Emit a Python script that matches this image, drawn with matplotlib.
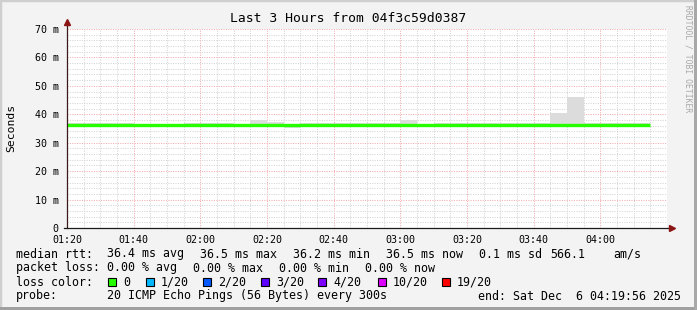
import matplotlib
matplotlib.use("Agg")
import matplotlib.pyplot as plt
from matplotlib.patches import Rectangle
import numpy as np

# ---- data ----
title = "Last 3 Hours from 04f3c59d0387"
bin_minutes = 5
# median rtt per 5 minute bin, starting 01:20 (ms)
median = [36.4, 36.4, 36.4, 36.3, 36.1, 36.1, 36.1, 36.3, 36.3, 36.3,
          36.1, 36.4, 36.1, 36.1, 36.4, 36.4, 36.3, 36.3, 36.3, 36.3,
          36.4, 36.2, 36.3, 36.3, 36.3, 36.3, 36.3, 36.3, 36.3, 36.3,
          36.3, 36.3, 36.3, 36.3, 36.4]
# smoke (min / max of the pings) per bin (ms)
smoke_lo = [36.0, 36.0, 36.0, 35.9, 35.8, 35.8, 35.8, 35.9, 35.9, 35.9,
            35.8, 36.0, 35.8, 35.3, 36.0, 36.0, 35.9, 35.9, 35.9, 35.9,
            36.0, 35.8, 35.9, 35.7, 35.7, 35.7, 35.7, 35.6, 35.9, 35.9,
            35.9, 35.9, 35.9, 35.9, 36.1]
smoke_hi = [36.9, 36.9, 36.9, 36.8, 36.6, 36.6, 36.6, 36.8, 36.8, 36.8,
            36.6, 37.9, 37.2, 36.6, 36.9, 36.9, 36.8, 36.8, 36.8, 36.8,
            37.9, 36.7, 36.8, 36.8, 36.8, 36.8, 36.8, 36.8, 36.8, 40.5,
            46.0, 36.8, 36.8, 36.8, 37.1]
x_ticks = [0, 20, 40, 60, 80, 100, 120, 140, 160]
x_labels = ["01:20", "01:40", "02:00", "02:20", "02:40", "03:00", "03:20", "03:40", "04:00"]
y_ticks = [0, 10, 20, 30, 40, 50, 60, 70]
y_labels = ["0", "10 m", "20 m", "30 m", "40 m", "50 m", "60 m", "70 m"]

loss_labels = ["0", "1/20", "2/20", "3/20", "4/20", "10/20", "19/20"]
loss_colors = ["#26ff00", "#00b8ff", "#0059ff", "#5e00ff", "#7e00ff", "#dd00ff", "#ff0000"]

W, H = 697, 310
mono = "DejaVu Sans Mono"

def fx(px):
    return px / W

def fy(py):
    return 1 - py / H

fig = plt.figure(figsize=(W / 100, H / 100), dpi=100)
fig.patch.set_facecolor("#f3f3f3")

# frame round the picture
fig.patches.append(Rectangle((0, 0), 1, 1, transform=fig.transFigure, fill=False,
                             edgecolor="#cfcfcf", linewidth=2.5))
fig.patches.append(Rectangle((fx(0), fy(310)), 1, 3 / H, transform=fig.transFigure,
                             facecolor="#a0a0a0", edgecolor="none"))
fig.patches.append(Rectangle((fx(694), 0), 3 / W, 1, transform=fig.transFigure,
                             facecolor="#a8a8a8", edgecolor="none"))

ax = fig.add_axes([fx(67), fy(228), 600 / W, 199 / H])
ax.set_facecolor("white")
ax.set_xlim(0, 180)
ax.set_ylim(0, 70)

# grid
ax.set_xticks(x_ticks)
ax.set_xticks(np.arange(0, 181, 5), minor=True)
ax.set_yticks(y_ticks)
ax.set_yticks(np.arange(0, 71, 2), minor=True)
ax.grid(which="minor", color="#d2d2d2", linestyle=(0, (1, 1.4)), linewidth=0.72)
ax.grid(which="major", color="#f5a8a8", linestyle=(0, (1, 1.4)), linewidth=0.72)
ax.set_axisbelow(True)

# smoke and median
t = np.arange(len(median) + 1) * bin_minutes
ax.fill_between(t, smoke_lo + [smoke_lo[-1]], smoke_hi + [smoke_hi[-1]],
                step="post", color="#dcdcdc", linewidth=0, zorder=2)
ax.step(t, median + [median[-1]], where="post", color=loss_colors[0],
        linewidth=2.4, solid_capstyle="butt", zorder=3)

# axes with arrows
for s in ax.spines.values():
    s.set_visible(False)
ax.plot([0, 0], [0, 71.5], color="#3a1a1a", linewidth=0.9, clip_on=False, zorder=4)
ax.plot([-1, 181], [0, 0], color="#1a1a1a", linewidth=0.9, clip_on=False, zorder=4)
ax.plot([0], [72.3], marker="^", color="#8b1414", markersize=5, clip_on=False, zorder=5)
ax.plot([181.6], [0], marker=">", color="#8b1414", markersize=5, clip_on=False, zorder=5)

ax.tick_params(which="both", length=0)
ax.tick_params(axis="x", pad=5)
ax.tick_params(axis="y", pad=6)
ax.set_xticklabels(x_labels, fontfamily=mono, fontsize=7.2)
ax.set_yticklabels(y_labels, fontfamily=mono, fontsize=7.2)

fig.text(fx(11), fy(128), "Seconds", rotation=90, ha="center", va="center",
         fontfamily=mono, fontsize=8.2)
fig.text(fx(348), fy(19), title, ha="center", va="center", fontfamily=mono, fontsize=9.4)
fig.text(fx(688), fy(5), "RRDTOOL / TOBI OETIKER", rotation=270, ha="center", va="top",
         fontfamily=mono, fontsize=5.8, color="#a8a8a8")

# legend text
fs = 8.4
rows = [
    (257.5, [(16, "median rtt:"), (107, "36.4 ms avg"), (200, "36.5 ms max"),
             (293, "36.2 ms min"), (386, "36.5 ms now"), (479, "0.1 ms sd"),
             (550, "566.1"), (613, "am/s")]),
    (271.5, [(16, "packet loss:"), (107, "0.00 % avg"), (193, "0.00 % max"),
             (279, "0.00 % min"), (365, "0.00 % now")]),
    (285.5, [(16, "loss color:")]),
    (299.5, [(16, "probe:"), (107, "20 ICMP Echo Pings (56 Bytes) every 300s"),
             (478, "end: Sat Dec  6 04:19:56 2025")]),
]
for y, items in rows:
    for x, s in items:
        fig.text(fx(x), fy(y), s, ha="left", va="baseline", fontfamily=mono, fontsize=fs)

box_x = [108, 146, 203, 261, 318, 378, 442]
for bx, lab, col in zip(box_x, loss_labels, loss_colors):
    fig.patches.append(Rectangle((fx(bx), fy(286)), 8 / W, 8 / H, transform=fig.transFigure,
                                 facecolor=col, edgecolor="black", linewidth=0.8))
    fig.text(fx(bx + 15), fy(285.5), lab, ha="left", va="baseline", fontfamily=mono, fontsize=fs)

fig.savefig("out.png", dpi=100, facecolor=fig.get_facecolor())
